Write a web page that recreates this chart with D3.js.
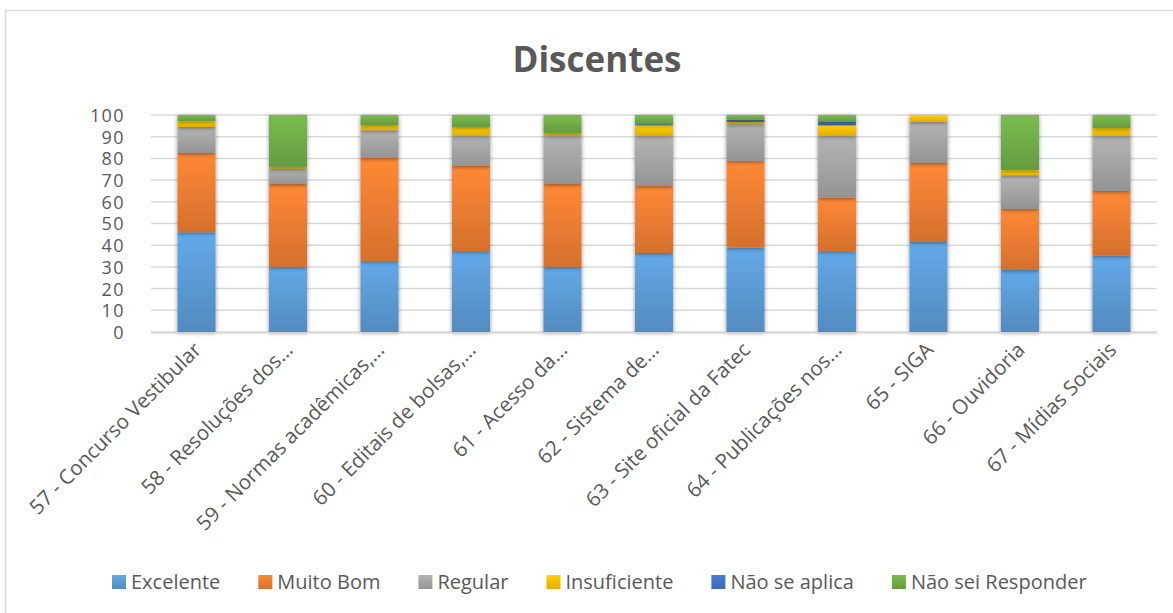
<!DOCTYPE html>
<html>
<head>
<meta charset="utf-8">
<script src="https://cdn.jsdelivr.net/npm/d3@7"></script>
<style>
  body { margin: 0; background: #fff; }
  text { font-family: "Open Sans", "Noto Sans", sans-serif; fill: #595959; }
</style>
</head>
<body>
<div id="chart"></div>
<script>
var categories = ["57 - Concurso Vestibular", "58 - Resoluções dos...", "59 - Normas acadêmicas,...",
  "60 - Editais de bolsas,...", "61 - Acesso da...", "62 - Sistema de...", "63 - Site oficial da Fatec",
  "64 - Publicações nos...", "65 - SIGA", "66 - Ouvidoria", "67 - Mídias Sociais"];

var seriesNames = ["Excelente", "Muito Bom", "Regular", "Insuficiente", "Não se aplica", "Não sei Responder"];

var excelente    = [46.0, 30.0, 32.7, 37.3, 30.0, 36.4, 38.9, 37.3, 41.5, 28.6, 35.2];
var muitoBom     = [36.5, 38.2, 47.5, 39.2, 38.2, 30.9, 39.9, 24.5, 36.4, 28.1, 29.8];
var regular      = [12.0,  7.0, 12.8, 14.1, 22.4, 23.3, 17.0, 28.7, 19.1, 15.6, 25.5];
var insuficiente = [ 2.7,  0.9,  2.4,  3.9,  1.1,  4.8,  1.0,  4.9,  3.0,  2.3,  3.5];
var naoSeAplica  = [ 0.0,  0.0,  0.0,  0.0,  0.0,  0.4,  1.0,  1.4,  0.0,  0.0,  0.0];
var naoSei       = [ 2.8, 23.9,  4.6,  5.5,  8.3,  4.2,  2.2,  3.2,  0.0, 25.4,  6.0];

var yTicks = [0, 10, 20, 30, 40, 50, 60, 70, 80, 90, 100];

var colors = ["#5B9BD5", "#ED7D31", "#A5A5A5", "#FFC000", "#4472C4", "#70AD47"];

var W = 1173, H = 613;
var margin = {top: 115, left: 151, right: 16, bottom: 281};

var table = categories.map(function(c, i) {
  return {cat: c, "Excelente": excelente[i], "Muito Bom": muitoBom[i], "Regular": regular[i],
    "Insuficiente": insuficiente[i], "Não se aplica": naoSeAplica[i], "Não sei Responder": naoSei[i]};
});

var svg = d3.select("#chart").append("svg")
  .attr("width", W)
  .attr("height", H);

var defs = svg.append("defs");
colors.forEach(function(c, i) {
  var g = defs.append("linearGradient")
    .attr("id", "grad" + i)
    .attr("x1", 0).attr("y1", 0).attr("x2", 0).attr("y2", 1);
  g.append("stop").attr("offset", "0%").attr("stop-color", d3.color(c).brighter(0.25));
  g.append("stop").attr("offset", "100%").attr("stop-color", d3.color(c).darker(0.3));
});
var f = defs.append("filter").attr("id", "shadow")
  .attr("x", "-30%").attr("y", "-5%").attr("width", "160%").attr("height", "110%");
f.append("feDropShadow").attr("dx", 0).attr("dy", 1).attr("stdDeviation", 2.2)
  .attr("flood-color", "#000").attr("flood-opacity", 0.45);

// chart border
svg.append("rect")
  .attr("x", 5.5).attr("y", 10.5)
  .attr("width", W + 10).attr("height", H + 10)
  .attr("fill", "none")
  .attr("stroke", "#d9d9d9")
  .attr("stroke-width", 1.5);

svg.append("text")
  .attr("x", 597).attr("y", 72)
  .attr("text-anchor", "middle")
  .style("font-size", "35px")
  .style("font-weight", "bold")
  .text("Discentes");

var x = d3.scaleBand()
  .domain(categories)
  .range([margin.left, W - margin.right])
  .paddingInner(0.585)
  .paddingOuter(0.29);

var y = d3.scaleLinear()
  .domain([0, 100])
  .range([H - margin.bottom, margin.top]);

// gridlines
svg.append("g")
  .selectAll("line")
  .data(yTicks)
  .enter().append("line")
  .attr("x1", margin.left).attr("x2", W - margin.right)
  .attr("y1", function(d) { return y(d); })
  .attr("y2", function(d) { return y(d); })
  .attr("stroke", "#d9d9d9")
  .attr("stroke-width", 1.5);

var yAxis = svg.append("g")
  .attr("transform", "translate(" + (margin.left - 23) + ",0)")
  .call(d3.axisLeft(y).tickValues(yTicks).tickSize(0));
yAxis.select(".domain").remove();
yAxis.selectAll("text")
  .style("font-size", "18px")
  .style("letter-spacing", "1.4px")
  .attr("dy", "0.36em")
  .attr("fill", "#595959");

var stack = d3.stack().keys(seriesNames);
var layers = stack(table);

svg.append("g")
  .selectAll("g")
  .data(layers)
  .enter().append("g")
  .attr("fill", function(d, i) { return "url(#grad" + i + ")"; })
  .attr("filter", "url(#shadow)")
  .selectAll("rect")
  .data(function(d) { return d; })
  .enter().append("rect")
  .attr("x", function(d) { return x(d.data.cat); })
  .attr("width", x.bandwidth())
  .attr("y", function(d) { return y(d[1]); })
  .attr("height", function(d) { return y(d[0]) - y(d[1]); });

// bottom axis line
svg.append("line")
  .attr("x1", margin.left).attr("x2", W - margin.right)
  .attr("y1", y(0) + 1).attr("y2", y(0) + 1)
  .attr("stroke", "#d9d9d9")
  .attr("stroke-width", 1.5);

// category labels
svg.append("g")
  .selectAll("text")
  .data(categories)
  .enter().append("text")
  .attr("transform", function(d) {
    return "translate(" + (x(d) + x.bandwidth() / 2 + 1) + "," + (y(0) + 14) + ") rotate(-45)";
  })
  .attr("text-anchor", "end")
  .attr("dy", "0.35em")
  .style("font-size", "20.5px")
  .text(function(d) { return d; });

// legend
var legend = svg.append("g");
var lx = 112;
seriesNames.forEach(function(s, i) {
  var item = legend.append("g").attr("transform", "translate(" + lx + ",575)");
  item.append("rect")
    .attr("width", 14).attr("height", 14)
    .attr("fill", "url(#grad" + i + ")");
  var t = item.append("text")
    .attr("x", 19).attr("y", 7)
    .attr("dy", "0.36em")
    .style("font-size", "20px")
    .text(s);
  lx += 19 + t.node().getComputedTextLength() + 38;
});
</script>
</body>
</html>
